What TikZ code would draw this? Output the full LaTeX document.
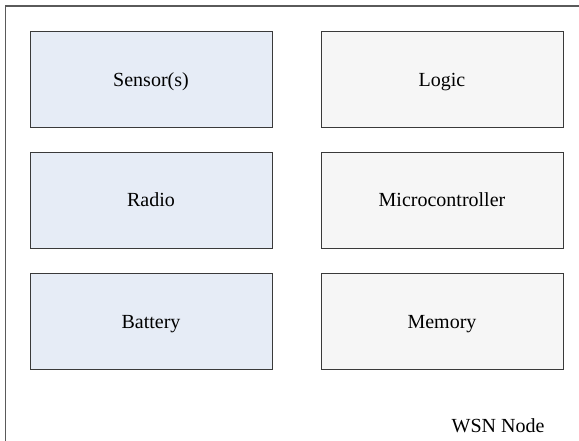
\documentclass[tikz,border=0pt]{standalone}
\usepackage{fontspec}
\setmainfont{Liberation Serif}
\newfontfamily\serifface{Liberation Serif}
\definecolor{bluefill}{HTML}{E6ECF6}
\definecolor{grayfill}{HTML}{F6F6F6}
\definecolor{boxline}{HTML}{3A3A3A}
\definecolor{outerline}{HTML}{5A5A5A}
\begin{document}
\begin{tikzpicture}[x=1pt,y=-1pt,
  blockbox/.style={draw=boxline,line width=0.9pt},
  leftbox/.style={blockbox,fill=bluefill},
  rightbox/.style={blockbox,fill=grayfill},
  lbl/.style={font=\serifface\fontsize{20}{24}\selectfont,anchor=base,inner sep=0pt}]
\useasboundingbox (0,0) rectangle (579,441);
\begin{scope}
\clip (0,0) rectangle (579,441);
\draw[outerline,line width=1.5pt] (5.5,6) rectangle (620,480);
\end{scope}
% left column
\draw[leftbox] (30,31) rectangle (272,127);
\draw[leftbox] (30,152) rectangle (272,248);
\draw[leftbox] (30,273) rectangle (272,369);
% right column
\draw[rightbox] (321,31) rectangle (563,127);
\draw[rightbox] (321,152) rectangle (563,248);
\draw[rightbox] (321,273) rectangle (563,369);
% labels
\node[lbl] (sensor) at (151,87) {Sensor(s)};
\node[lbl] (radio) at (151,207) {Radio};
\node[lbl] (battery) at (151,328) {Battery};
\node[lbl] (logic) at (442,87) {Logic};
\node[lbl] (micro) at (442,207) {Microcontroller};
\node[lbl] (memory) at (442,328) {Memory};
\node[lbl] (wsn) at (498,432.5) {WSN Node};
\end{tikzpicture}
\end{document}
